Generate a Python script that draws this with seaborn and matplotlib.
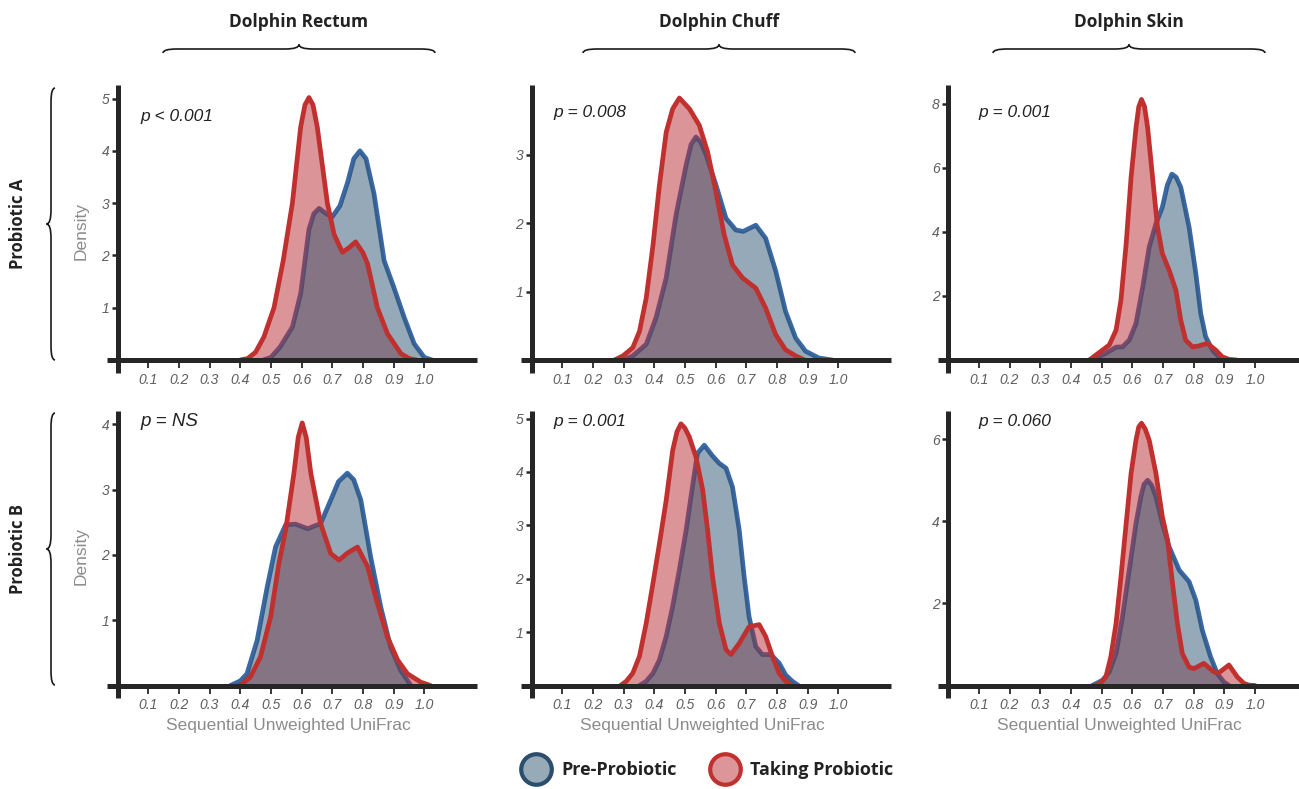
import matplotlib
matplotlib.use("Agg")
import matplotlib.pyplot as plt
import matplotlib.transforms as mtransforms
from matplotlib.path import Path
from matplotlib.patches import PathPatch
from matplotlib.lines import Line2D
from matplotlib.font_manager import FontProperties
import seaborn as sns

# ─── DATA (density curves) ──────────────────────────────────────
SITES = ["Dolphin Rectum", "Dolphin Chuff", "Dolphin Skin"]
PROBIOTICS = ["Probiotic A", "Probiotic B"]
GROUPS = ["Pre-Probiotic", "Taking Probiotic"]
X_TICKS = [0.1, 0.2, 0.3, 0.4, 0.5, 0.6, 0.7, 0.8, 0.9, 1.0]

P_TEXT = [["p < 0.001", "p = 0.008", "p = 0.001"],
          ["p = NS", "p = 0.001", "p = 0.060"]]
Y_TICKS = [[[1, 2, 3, 4, 5], [1, 2, 3], [2, 4, 6, 8]],
           [[1, 2, 3, 4], [1, 2, 3, 4, 5], [2, 4, 6]]]
Y_TOP = [[5.26, 4.02, 8.58],
         [4.21, 5.15, 6.70]]

# Probiotic A
RECTUM_A_PRE_X = [0.475, 0.50, 0.53, 0.57, 0.597, 0.624, 0.64, 0.657, 0.68, 0.70, 0.725, 0.75,
                  0.77, 0.79, 0.81, 0.836, 0.869, 0.90, 0.934, 0.967, 1.0, 1.025]
RECTUM_A_PRE_Y = [0, 0.05, 0.25, 0.63, 1.27, 2.5, 2.8, 2.9, 2.8, 2.74, 2.95, 3.4,
                  3.85, 4.0, 3.85, 3.18, 1.9, 1.4, 0.82, 0.31, 0.05, 0]
RECTUM_A_TAK_X = [0.40, 0.425, 0.45, 0.477, 0.51, 0.54, 0.57, 0.597, 0.611, 0.624, 0.637, 0.651,
                  0.684, 0.706, 0.733, 0.755, 0.776, 0.80, 0.815, 0.847, 0.88, 0.924, 0.95, 0.975]
RECTUM_A_TAK_Y = [0, 0.03, 0.15, 0.44, 1.0, 1.9, 3.0, 4.46, 4.88, 5.02, 4.88, 4.46,
                  3.0, 2.4, 2.06, 2.15, 2.26, 2.05, 1.84, 1.0, 0.5, 0.12, 0.03, 0]

CHUFF_A_PRE_X = [0.30, 0.33, 0.374, 0.406, 0.439, 0.471, 0.504, 0.52, 0.536, 0.552, 0.569, 0.601,
                 0.634, 0.666, 0.69, 0.731, 0.763, 0.796, 0.828, 0.861, 0.893, 0.936, 0.98]
CHUFF_A_PRE_Y = [0, 0.06, 0.23, 0.62, 1.2, 2.12, 2.85, 3.15, 3.26, 3.18, 3.0, 2.56,
                 2.07, 1.9, 1.88, 1.97, 1.78, 1.3, 0.71, 0.32, 0.13, 0.03, 0]
CHUFF_A_TAK_X = [0.27, 0.298, 0.33, 0.352, 0.374, 0.396, 0.417, 0.439, 0.46, 0.482, 0.515, 0.547,
                 0.574, 0.601, 0.628, 0.655, 0.688, 0.731, 0.763, 0.796, 0.828, 0.861, 0.89]
CHUFF_A_TAK_Y = [0, 0.06, 0.18, 0.42, 0.91, 1.68, 2.56, 3.33, 3.67, 3.83, 3.67, 3.43,
                 3.04, 2.46, 1.83, 1.39, 1.2, 1.05, 0.76, 0.37, 0.15, 0.06, 0]

SKIN_A_PRE_X = [0.46, 0.482, 0.514, 0.547, 0.568, 0.59, 0.612, 0.634, 0.655, 0.677, 0.698, 0.714,
                0.729, 0.743, 0.758, 0.785, 0.807, 0.823, 0.839, 0.861, 0.882, 0.904]
SKIN_A_PRE_Y = [0, 0.07, 0.21, 0.4, 0.41, 0.62, 1.14, 2.28, 3.52, 4.25, 4.77, 5.45,
                5.8, 5.7, 5.39, 4.15, 2.7, 1.45, 0.73, 0.31, 0.1, 0]
SKIN_A_TAK_X = [0.46, 0.482, 0.503, 0.525, 0.547, 0.563, 0.58, 0.596, 0.612, 0.621, 0.63, 0.64,
                0.65, 0.666, 0.682, 0.698, 0.72, 0.742, 0.758, 0.774, 0.796, 0.817, 0.844, 0.872,
                0.893, 0.915, 0.94]
SKIN_A_TAK_Y = [0, 0.16, 0.31, 0.47, 0.93, 1.87, 3.63, 5.7, 7.25, 7.9, 8.13, 7.9,
                7.25, 5.7, 4.15, 3.32, 2.8, 2.18, 1.24, 0.62, 0.41, 0.44, 0.52, 0.31,
                0.1, 0.02, 0]

# Probiotic B
RECTUM_B_PRE_X = [0.368, 0.40, 0.422, 0.455, 0.488, 0.515, 0.548, 0.58, 0.62, 0.662, 0.695, 0.72,
                  0.749, 0.77, 0.793, 0.825, 0.858, 0.89, 0.923, 0.956]
RECTUM_B_PRE_Y = [0, 0.07, 0.18, 0.69, 1.51, 2.12, 2.46, 2.47, 2.4, 2.48, 2.84, 3.12,
                  3.25, 3.15, 2.84, 1.97, 1.2, 0.59, 0.23, 0]
RECTUM_B_TAK_X = [0.40, 0.433, 0.466, 0.499, 0.526, 0.548, 0.575, 0.589, 0.602, 0.615, 0.63,
                  0.662, 0.695, 0.722, 0.75, 0.782, 0.815, 0.847, 0.88, 0.913, 0.945, 0.989, 1.02]
RECTUM_B_TAK_Y = [0, 0.13, 0.44, 1.05, 1.87, 2.38, 3.25, 3.8, 4.02, 3.8, 3.25,
                  2.48, 2.02, 1.92, 2.03, 2.12, 1.82, 1.26, 0.74, 0.39, 0.18, 0.05, 0]

CHUFF_B_PRE_X = [0.352, 0.374, 0.396, 0.417, 0.439, 0.46, 0.482, 0.504, 0.526, 0.541, 0.563, 0.59,
                 0.612, 0.634, 0.655, 0.677, 0.693, 0.709, 0.731, 0.752, 0.78, 0.807, 0.828, 0.85, 0.87]
CHUFF_B_PRE_Y = [0, 0.08, 0.23, 0.48, 0.92, 1.48, 2.17, 2.91, 3.78, 4.35, 4.5, 4.3,
                 4.16, 4.07, 3.72, 2.91, 2.04, 1.29, 0.73, 0.58, 0.58, 0.42, 0.2, 0.08, 0]
CHUFF_B_TAK_X = [0.29, 0.309, 0.33, 0.352, 0.374, 0.396, 0.417, 0.439, 0.46, 0.474, 0.487, 0.5,
                 0.514, 0.536, 0.558, 0.574, 0.59, 0.612, 0.634, 0.65, 0.677, 0.709, 0.742, 0.763,
                 0.785, 0.807, 0.828, 0.85]
CHUFF_B_TAK_Y = [0, 0.08, 0.23, 0.55, 1.17, 1.92, 2.66, 3.47, 4.4, 4.75, 4.9, 4.82,
                 4.66, 4.28, 3.66, 2.91, 2.04, 1.17, 0.67, 0.58, 0.79, 1.1, 1.14, 0.92,
                 0.55, 0.23, 0.08, 0]

SKIN_B_PRE_X = [0.47, 0.503, 0.525, 0.547, 0.568, 0.59, 0.612, 0.628, 0.638, 0.65, 0.663, 0.677,
                0.698, 0.72, 0.753, 0.785, 0.807, 0.828, 0.855, 0.877, 0.898, 0.915]
SKIN_B_PRE_Y = [0, 0.13, 0.33, 0.78, 1.67, 2.81, 3.95, 4.6, 4.9, 5.0, 4.88, 4.6,
                3.95, 3.38, 2.81, 2.53, 2.08, 1.35, 0.7, 0.29, 0.09, 0]
SKIN_B_TAK_X = [0.47, 0.493, 0.514, 0.53, 0.547, 0.563, 0.58, 0.596, 0.612, 0.621, 0.63, 0.642,
                0.655, 0.677, 0.698, 0.715, 0.731, 0.747, 0.763, 0.785, 0.801, 0.833, 0.866, 0.882,
                0.915, 0.942, 0.964, 0.98, 1.0]
SKIN_B_TAK_Y = [0, 0.03, 0.21, 0.7, 1.51, 2.65, 3.95, 5.17, 5.98, 6.3, 6.39, 6.25,
                5.98, 5.17, 4.11, 3.54, 2.49, 1.51, 0.78, 0.45, 0.41, 0.54, 0.33, 0.31,
                0.5, 0.21, 0.05, 0.01, 0]

CURVES = [
    [(RECTUM_A_PRE_X, RECTUM_A_PRE_Y, RECTUM_A_TAK_X, RECTUM_A_TAK_Y),
     (CHUFF_A_PRE_X, CHUFF_A_PRE_Y, CHUFF_A_TAK_X, CHUFF_A_TAK_Y),
     (SKIN_A_PRE_X, SKIN_A_PRE_Y, SKIN_A_TAK_X, SKIN_A_TAK_Y)],
    [(RECTUM_B_PRE_X, RECTUM_B_PRE_Y, RECTUM_B_TAK_X, RECTUM_B_TAK_Y),
     (CHUFF_B_PRE_X, CHUFF_B_PRE_Y, CHUFF_B_TAK_X, CHUFF_B_TAK_Y),
     (SKIN_B_PRE_X, SKIN_B_PRE_Y, SKIN_B_TAK_X, SKIN_B_TAK_Y)],
]

# ─── STYLE ──────────────────────────────────────────────────────
PRE_LINE, PRE_FILL, PRE_EDGE = "#3b69a6", "#2f5573", "#2c4e6d"
TAK_LINE, TAK_FILL = "#c0302f", "#b92b31"
AXIS_COLOR = "#262626"
HEAD_FONT = "Open Sans"
BODY_FONT = "Liberation Sans"

sns.set_style("white")
plt.rcParams["font.family"] = [BODY_FONT, "DejaVu Sans"]

W, H = 1299, 789
fig = plt.figure(figsize=(W / 100, H / 100), dpi=100)
# pixel coordinates (origin top-left) for annotations
PX = mtransforms.Affine2D().scale(1 / W, -1 / H).translate(0, 1) + fig.transFigure

COL_LEFT = [117.5, 531.5, 948.2]
ROW_BOTTOM = [360.0, 685.5]
AX_W, AX_H = 359.0, 275.0
P_POS = [[(140, 117), (553, 113), (978, 113)],
         [(140, 422), (553, 422), (978, 422)]]


def brace(x0, x1, y_end, y_flat, y_tip, vertical=False, r=14):
    xc = (x0 + x1) / 2
    pts = [(x0, y_end), (x0, y_flat), (x0 + r, y_flat), (xc - r, y_flat),
           (xc, y_flat), (xc, y_tip), (xc, y_flat), (xc + r, y_flat),
           (x1 - r, y_flat), (x1, y_flat), (x1, y_end)]
    codes = [Path.MOVETO, Path.CURVE3, Path.CURVE3, Path.LINETO,
             Path.CURVE3, Path.CURVE3, Path.CURVE3, Path.CURVE3,
             Path.LINETO, Path.CURVE3, Path.CURVE3]
    if vertical:
        pts = [(b, a) for a, b in pts]
    fig.patches.append(PathPatch(Path(pts, codes), transform=PX, facecolor="none",
                                 edgecolor="#1a1a1a", lw=1.2))


for i in range(2):
    for j in range(3):
        left, bottom = COL_LEFT[j], ROW_BOTTOM[i]
        ax = fig.add_axes([left / W, 1 - bottom / H, AX_W / W, AX_H / H])
        pre_x, pre_y, tak_x, tak_y = CURVES[i][j]

        # blue outline, red fill, blue fill, red outline
        sns.lineplot(x=pre_x, y=pre_y, ax=ax, color=PRE_LINE, linewidth=3.4,
                     solid_joinstyle="round", zorder=1)
        ax.fill_between(tak_x, tak_y, color=TAK_FILL, alpha=0.5, linewidth=0, zorder=2)
        ax.fill_between(pre_x, pre_y, color=PRE_FILL, alpha=0.5, linewidth=0, zorder=3)
        sns.lineplot(x=tak_x, y=tak_y, ax=ax, color=TAK_LINE, linewidth=3.4,
                     solid_joinstyle="round", zorder=4)

        ax.set_xlim(0, 1.17)
        ax.set_ylim(0, Y_TOP[i][j])
        sns.despine(ax=ax, left=True, bottom=True, top=True, right=True)
        ax.axhline(0, xmin=-0.028, xmax=1, color=AXIS_COLOR, lw=3.6,
                   solid_capstyle="butt", clip_on=False, zorder=6)
        ax.axvline(0, ymin=-0.047, ymax=1, color=AXIS_COLOR, lw=3.6,
                   solid_capstyle="butt", clip_on=False, zorder=6)

        ax.set_xticks(X_TICKS)
        ax.set_xticklabels([f"{t:.1f}" for t in X_TICKS], fontstyle="italic")
        ax.set_yticks(Y_TICKS[i][j])
        ax.set_yticklabels([str(t) for t in Y_TICKS[i][j]], fontstyle="italic")
        ax.tick_params(axis="x", bottom=True, direction="out", length=6, width=1.3,
                       color=AXIS_COLOR, pad=3, labelsize=10, labelcolor="#5e5e5e")
        ax.tick_params(axis="y", left=True, direction="out", length=4, width=1.8,
                       color=AXIS_COLOR, pad=2, labelsize=10, labelcolor="#5e5e5e")

        if j == 0:
            ax.set_ylabel("Density", fontsize=12.5, color="#8c8c8c")
            ax.yaxis.set_label_coords(-0.08, 0.47)
        else:
            ax.set_ylabel("")
        if i == 1:
            ax.set_xlabel("Sequential Unweighted UniFrac", fontsize=12.5, color="#8c8c8c")
            ax.xaxis.set_label_coords(0.476, -0.118)
        else:
            ax.set_xlabel("")

        px_, py_ = P_POS[i][j]
        fig.text(px_, py_, P_TEXT[i][j], transform=PX, ha="left", va="center",
                 fontsize=13.5 if P_TEXT[i][j] == "p = NS" else 12.5,
                 fontstyle="italic", color="#222222")

# column headers with braces
for j, site in enumerate(SITES):
    xc = [299, 719, 1129][j]
    fig.text(xc, 22, site, transform=PX, ha="center", va="center", fontsize=12.5,
             fontweight="bold", family=HEAD_FONT, color="#222222")
    brace(xc - 136, xc + 136, 53, 49, 44.5)

# row labels with braces
for i, name in enumerate(PROBIOTICS):
    yc = [224, 549][i]
    fig.text(18, yc, name, transform=PX, ha="center", va="center", rotation=90,
             fontsize=12, fontweight="bold", family=HEAD_FONT, color="#222222")
    brace(yc - 136, yc + 136, 55, 51, 46.5, vertical=True)

# legend
handles = [
    Line2D([], [], marker="o", linestyle="", markersize=22, markerfacecolor="#97aab8",
           markeredgecolor=PRE_EDGE, markeredgewidth=3),
    Line2D([], [], marker="o", linestyle="", markersize=22, markerfacecolor="#dc9598",
           markeredgecolor=TAK_LINE, markeredgewidth=3),
]
fig.legend(handles, GROUPS, loc="center", bbox_to_anchor=(710 / W, 1 - 770 / H), ncol=2,
           frameon=False, prop=FontProperties(family=HEAD_FONT, weight="bold", size=13),
           handlelength=1.0, handletextpad=0.9, columnspacing=2.2, borderaxespad=0,
           labelcolor="#222222")

fig.savefig("out.png", dpi=100)
